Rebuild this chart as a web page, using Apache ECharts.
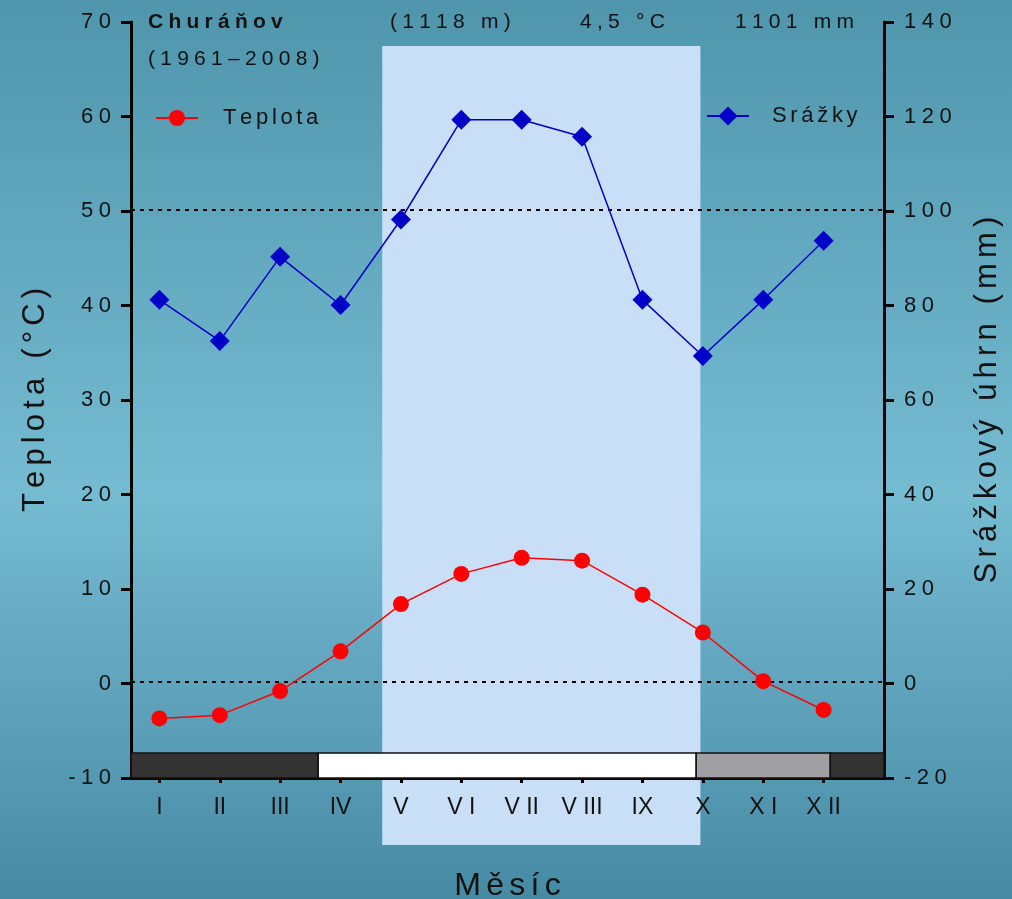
<!DOCTYPE html>
<html>
<head>
<meta charset="utf-8">
<script src="https://cdn.jsdelivr.net/npm/echarts@6/dist/echarts.min.js"></script>
<style>
  html, body { margin: 0; padding: 0; }
  #chart { width: 1012px; height: 899px; }
</style>
</head>
<body>
<div id="chart"></div>
<script>
// data
const months = [1, 2, 3, 4, 5, 6, 7, 8, 9, 10, 11, 12]
const monthLabels = ['I', 'II', 'III', 'IV', 'V', 'V I', 'V II', 'V III', 'IX', 'X', 'X I', 'X II']
const teplota = [-3.7, -3.35, -0.8, 3.4, 8.4, 11.6, 13.3, 13.0, 9.4, 5.4, 0.25, -2.8]
const srazky = [81.2, 72.5, 90.3, 80.1, 98.2, 119.3, 119.3, 115.7, 81.2, 69.3, 81.2, 93.7]
const refLines = [0.2, 50.1]            // dotted reference lines (left axis)
const growSeason = [4.69, 9.96]         // shaded months
const bandEdges = [0.53, 3.63, 9.89, 12.11, 13]
const bandTop = -7.35
const headerTexts = ['Churáňov', '(1961–2008)', '(1118 m)', '4,5 °C', '1101 mm']
const xRange = [0.53, 13]

const FONT = '"Liberation Sans", Arial, sans-serif'
const sp = (s, gap) => String(s).split('').join(gap)
const NUM_GAP = '\u2005'
const WORD_GAP = '\u2006'
const TITLE_GAP = '\u2006'

const bandColors = ['#333333', '#ffffff', '#a09fa4', '#333333']

const chart = echarts.init(document.getElementById('chart'))

const headerPos = [
  { left: 148, top: 12, bold: true },
  { left: 148, top: 49 },
  { left: 390, top: 12 },
  { left: 580, top: 12 },
  { left: 735, top: 12 }
]

const option = {
  animation: false,
  backgroundColor: {
    type: 'linear', x: 0, y: 0, x2: 0, y2: 1,
    colorStops: [
      { offset: 0, color: '#4f96ad' },
      { offset: 0.55, color: '#75bbd2' },
      { offset: 1, color: '#478aa4' }
    ]
  },
  textStyle: { fontFamily: FONT },
  title: headerTexts.map((t, i) => ({
    text: sp(t, NUM_GAP),
    left: headerPos[i].left,
    top: headerPos[i].top,
    padding: 0,
    textStyle: {
      fontFamily: FONT,
      fontSize: 21,
      fontWeight: headerPos[i].bold ? 'bold' : 'normal',
      color: '#111'
    }
  })),
  legend: [
    {
      data: ['Teplota'], left: 155, top: 107, padding: 0,
      itemWidth: 42, itemHeight: 20,
      formatter: n => sp(n, WORD_GAP),
      textStyle: { fontFamily: FONT, fontSize: 22, color: '#111', padding: [0, 0, 0, 20] }
    },
    {
      data: ['Srážky'], left: 706, top: 105, padding: 0,
      itemWidth: 42, itemHeight: 24,
      formatter: n => sp(n, WORD_GAP),
      textStyle: { fontFamily: FONT, fontSize: 22, color: '#111', padding: [0, 0, 0, 18] }
    }
  ],
  grid: [
    { left: 131, right: 128, top: 22, bottom: 121, containLabel: false, outerBoundsMode: 'none' },
    { left: 131, right: 128, top: 46, bottom: 54, containLabel: false, outerBoundsMode: 'none' }
  ],
  xAxis: [
    {
      type: 'value', gridIndex: 0, min: xRange[0], max: xRange[1],
      name: sp('Měsíc', TITLE_GAP), nameLocation: 'middle', nameGap: 92,
      nameTextStyle: { fontFamily: FONT, fontSize: 32, color: '#111' },
      splitLine: { show: false },
      axisLine: { onZero: false, lineStyle: { color: '#000', width: 3 } },
      axisTick: { customValues: months, length: 5, lineStyle: { color: '#000', width: 3 } },
      axisLabel: {
        customValues: months, margin: 18,
        formatter: v => monthLabels[Math.round(v) - 1],
        fontFamily: FONT, fontSize: 23, color: '#111'
      }
    },
    {
      type: 'value', gridIndex: 1, min: xRange[0], max: xRange[1], show: false
    }
  ],
  yAxis: [
    {
      type: 'value', gridIndex: 0, min: -10, max: 70, interval: 10, position: 'left',
      name: sp('Teplota (°C)', TITLE_GAP), nameLocation: 'middle', nameGap: 80, nameRotate: 90,
      nameTextStyle: { fontFamily: FONT, fontSize: 31, color: '#111' },
      splitLine: { show: false },
      axisLine: { show: true, onZero: false, lineStyle: { color: '#000', width: 3 } },
      axisTick: { show: true, length: 10, lineStyle: { color: '#000', width: 3 } },
      axisLabel: { margin: 20, formatter: v => sp(v, NUM_GAP), fontFamily: FONT, fontSize: 22, color: '#111' }
    },
    {
      type: 'value', gridIndex: 0, min: -20, max: 140, interval: 20, position: 'right',
      name: sp('Srážkový úhrn (mm)', TITLE_GAP), nameLocation: 'middle', nameGap: 88, nameRotate: 90,
      nameTextStyle: { fontFamily: FONT, fontSize: 31, color: '#111' },
      splitLine: { show: false },
      axisLine: { show: true, onZero: false, lineStyle: { color: '#000', width: 3 } },
      axisTick: { show: true, length: 10, lineStyle: { color: '#000', width: 3 } },
      axisLabel: { margin: 20, formatter: v => sp(v, NUM_GAP), fontFamily: FONT, fontSize: 22, color: '#111' }
    },
    {
      type: 'value', gridIndex: 1, min: 0, max: 1, show: false
    }
  ],
  series: [
    // shaded vegetation period, taller than the plot
    {
      name: 'shade', type: 'line', xAxisIndex: 1, yAxisIndex: 2, z: -5,
      data: [], silent: true,
      markArea: {
        silent: true, z: -5,
        itemStyle: { color: '#c9dff7' },
        data: [[{ xAxis: growSeason[0] }, { xAxis: growSeason[1] }]]
      }
    },
    // bottom band
    {
      name: 'band', type: 'line', xAxisIndex: 0, yAxisIndex: 0, z: 1,
      data: [], silent: true,
      markArea: {
        silent: true, z: 1,
        data: bandColors.map((c, i) => [
          { xAxis: bandEdges[i], yAxis: -10, itemStyle: { color: c, borderColor: '#111', borderWidth: 1.5 } },
          { xAxis: bandEdges[i + 1], yAxis: bandTop }
        ])
      }
    },
    {
      name: 'Teplota', type: 'line', xAxisIndex: 0, yAxisIndex: 0, z: 3,
      data: months.map((m, i) => [m, teplota[i]]),
      symbol: 'circle', symbolSize: 16,
      itemStyle: { color: '#ff0000' },
      lineStyle: { color: '#ff0000', width: 1.5 },
      markLine: {
        silent: true, symbol: 'none', z: 2,
        label: { show: false },
        lineStyle: { color: '#000', type: [4, 5], width: 2 },
        data: refLines.map(v => ({ yAxis: v }))
      }
    },
    {
      name: 'Srážky', type: 'line', xAxisIndex: 0, yAxisIndex: 1, z: 3,
      data: months.map((m, i) => [m, srazky[i]]),
      symbol: 'diamond', symbolSize: 20,
      itemStyle: { color: '#0000c8' },
      lineStyle: { color: '#0000c8', width: 1.5 }
    }
  ]
}

chart.setOption(option)
</script>
</body>
</html>
